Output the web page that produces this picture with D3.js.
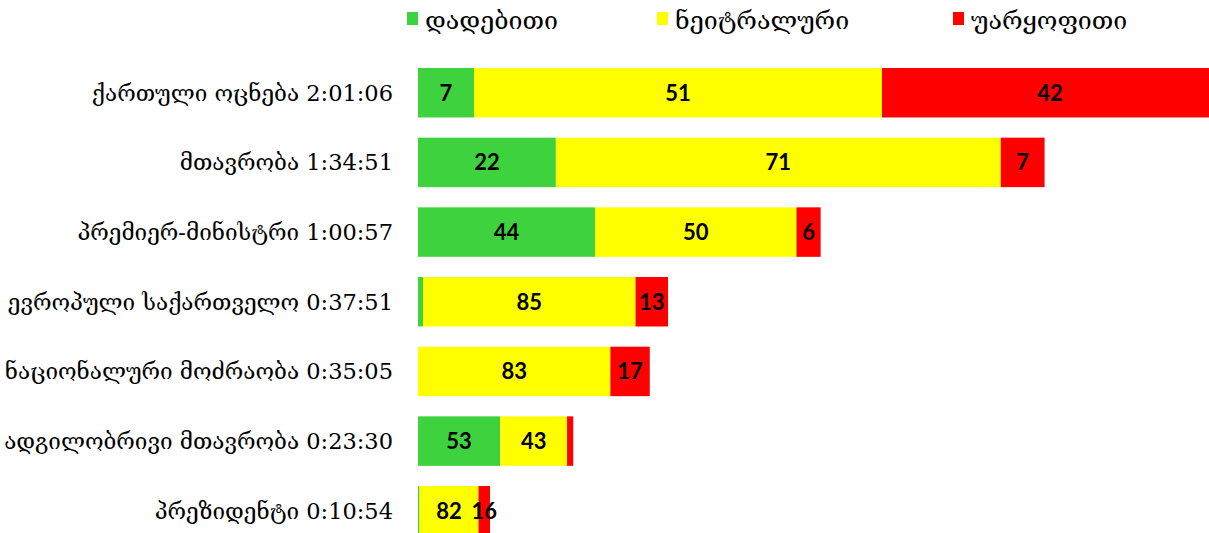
<!DOCTYPE html>
<html>
<head>
<meta charset="utf-8">
<script src="https://cdn.jsdelivr.net/npm/d3@7"></script>
<style>
  body { margin: 0; background: #fff; }
  svg { display: block; }
</style>
</head>
<body>
<div id="chart"></div>
<script>
// categories and durations (h:mm:ss as shown in the labels)
const parties = [
  'ქართული ოცნება', 'მთავრობა', 'პრემიერ-მინისტრი', 'ევროპული საქართველო',
  'ნაციონალური მოძრაობა', 'ადგილობრივი მთავრობა', 'პრეზიდენტი'
];
const durations = ['2:01:06', '1:34:51', '1:00:57', '0:37:51', '0:35:05', '0:23:30', '0:10:54'];

// tone shares, percent
const positive = [7, 22, 44, 2, 0, 53, 2];
const neutral  = [51, 71, 50, 85, 83, 43, 82];
const negative = [42, 7, 6, 13, 17, 4, 16];

const seriesNames = ['დადებითი', 'ნეიტრალური', 'უარყოფითი'];
const seriesColors = ['#3ed33e', '#ffff00', '#ff0000'];

const toSeconds = s => s.split(':').map(Number).reduce((a, v) => a * 60 + v, 0);

const width = 1209;
const height = 533;

const rows = parties.map((p, i) => ({
  label: `${p} ${durations[i]}`,
  secs: toSeconds(durations[i]),
  parts: [positive[i], neutral[i], negative[i]]
}));

const x = d3.scaleLinear()
  .domain([0, d3.max(rows, d => d.secs)])
  .range([418, 1218]);

const y = d3.scaleBand()
  .domain(rows.map(d => d.label))
  .range([68, 535.5])
  .paddingInner(0.29)
  .paddingOuter(0);

const svg = d3.select('#chart').append('svg')
  .attr('width', width)
  .attr('height', height);

// build segments
const segs = [];
rows.forEach(r => {
  let acc = 0;
  r.parts.forEach((v, k) => {
    const s0 = r.secs * acc / 100;
    acc += v;
    const s1 = r.secs * acc / 100;
    segs.push({ row: r, k, v, x0: x(s0), x1: x(s1) });
  });
});

const seg = svg.selectAll('.seg')
  .data(segs.filter(d => d.v > 0))
  .enter().append('g')
  .attr('class', 'seg');

seg.append('rect')
  .attr('x', d => d.x0)
  .attr('y', d => y(d.row.label))
  .attr('width', d => d.x1 - d.x0)
  .attr('height', y.bandwidth())
  .attr('fill', d => seriesColors[d.k]);

seg.filter(d => d.v >= 5).append('text')
  .attr('x', d => (d.x0 + d.x1) / 2)
  .attr('y', d => y(d.row.label) + y.bandwidth() / 2)
  .attr('dy', '.36em')
  .attr('text-anchor', 'middle')
  .style('font', 'bold 22px Lato, "DejaVu Sans", sans-serif')
  .style('fill', '#000')
  .text(d => d.v);

// category labels
svg.selectAll('.lbl')
  .data(rows)
  .enter().append('text')
  .attr('class', 'lbl')
  .attr('x', 393)
  .attr('y', d => y(d.label) + y.bandwidth() / 2)
  .attr('dy', '.35em')
  .attr('text-anchor', 'end')
  .style('font', '22.5px "DejaVu Serif", serif')
  .style('fill', '#000')
  .text(d => d.label);

// legend
const legendX = [407, 657, 953];
const leg = svg.selectAll('.leg')
  .data(seriesNames)
  .enter().append('g')
  .attr('class', 'leg')
  .attr('transform', (d, i) => `translate(${legendX[i]}, 12)`);

leg.append('rect')
  .attr('width', 11)
  .attr('height', 13)
  .attr('fill', (d, i) => seriesColors[i]);

leg.append('text')
  .attr('x', 18)
  .attr('y', 8)
  .attr('dy', '.35em')
  .style('font', '25px "DejaVu Serif", serif')
  .style('fill', '#000')
  .text(d => d);
</script>
</body>
</html>
